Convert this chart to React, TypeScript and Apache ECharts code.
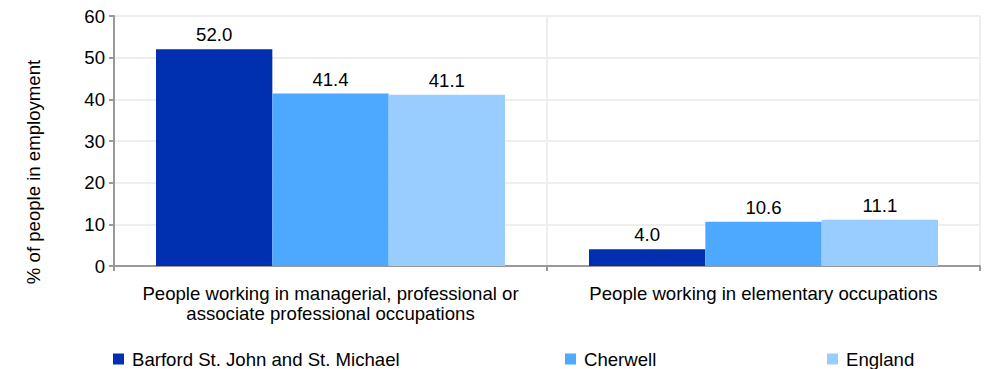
import React, { useEffect, useRef } from "react";
import * as echarts from "echarts";

const categories = [
  "People working in managerial, professional or\nassociate professional occupations",
  "People working in elementary occupations",
];
const seriesNames = ["Barford St. John and St. Michael", "Cherwell", "England"];
const barford = [52.0, 4.0];
const cherwell = [41.4, 10.6];
const england = [41.1, 11.1];
const yTicks = [0, 10, 20, 30, 40, 50, 60];
const colors = ["#0030B0", "#4DA8FF", "#99CCFF"];

const FONT = "Liberation Sans, Arial, sans-serif";
const FS = 18.6;

export default function App() {
  const ref = useRef<HTMLDivElement>(null);
  useEffect(() => {
    document.body.style.margin = "0";
    if (!ref.current) return;
    const chart = echarts.init(ref.current, undefined, { renderer: "svg" });
    const values = [barford, cherwell, england];
    const legendLefts = [113, 565, 827];
    chart.setOption({
      animation: false,
      textStyle: { fontFamily: FONT },
      grid: { left: 114, right: 4, top: 16, bottom: 103 },
      legend: seriesNames.map((n, i) => ({
        data: [n],
        left: legendLefts[i],
        top: 349,
        padding: 0,
        itemWidth: 11,
        itemHeight: 11,
        itemGap: 0,
        icon: "rect",
        textStyle: {
          fontSize: FS,
          color: "#000",
          fontFamily: FONT,
          lineHeight: 20,
          padding: [0, 0, 0, 3],
        },
      })),
      xAxis: {
        type: "category",
        data: categories,
        axisLine: { show: true, lineStyle: { color: "#999", width: 2 } },
        axisTick: { show: true, length: 5, lineStyle: { color: "#999", width: 2 } },
        splitLine: { show: true, lineStyle: { color: "#eeeeee", width: 2 } },
        axisLabel: {
          fontSize: FS,
          color: "#000",
          lineHeight: 20,
          margin: 17,
          interval: 0,
          fontFamily: FONT,
        },
      },
      yAxis: {
        type: "value",
        min: 0,
        max: yTicks[yTicks.length - 1],
        interval: 10,
        axisLine: { show: true, lineStyle: { color: "#999", width: 2 } },
        axisTick: { show: true, length: 5, lineStyle: { color: "#999", width: 2 } },
        splitLine: { show: true, lineStyle: { color: "#eeeeee", width: 2 } },
        axisLabel: { fontSize: FS, color: "#000", margin: 9, fontFamily: FONT },
      },
      graphic: [
        {
          type: "text",
          x: 33,
          y: 172,
          rotation: Math.PI / 2,
          style: {
            text: "% of people in employment",
            fontSize: FS,
            fontFamily: FONT,
            fill: "#000",
            align: "center",
            verticalAlign: "middle",
          },
        },
      ],
      series: seriesNames.map((n, i) => ({
        name: n,
        type: "bar",
        data: values[i],
        barGap: "0%",
        barCategoryGap: "19.4%",
        itemStyle: { color: colors[i] },
        label: {
          show: true,
          position: "top",
          distance: 5,
          fontSize: FS,
          color: "#000",
          fontFamily: FONT,
          formatter: (p: any) => Number(p.value).toFixed(1),
        },
      })),
    });
    return () => chart.dispose();
  }, []);
  return <div ref={ref} style={{ width: 984, height: 369 }} />;
}
